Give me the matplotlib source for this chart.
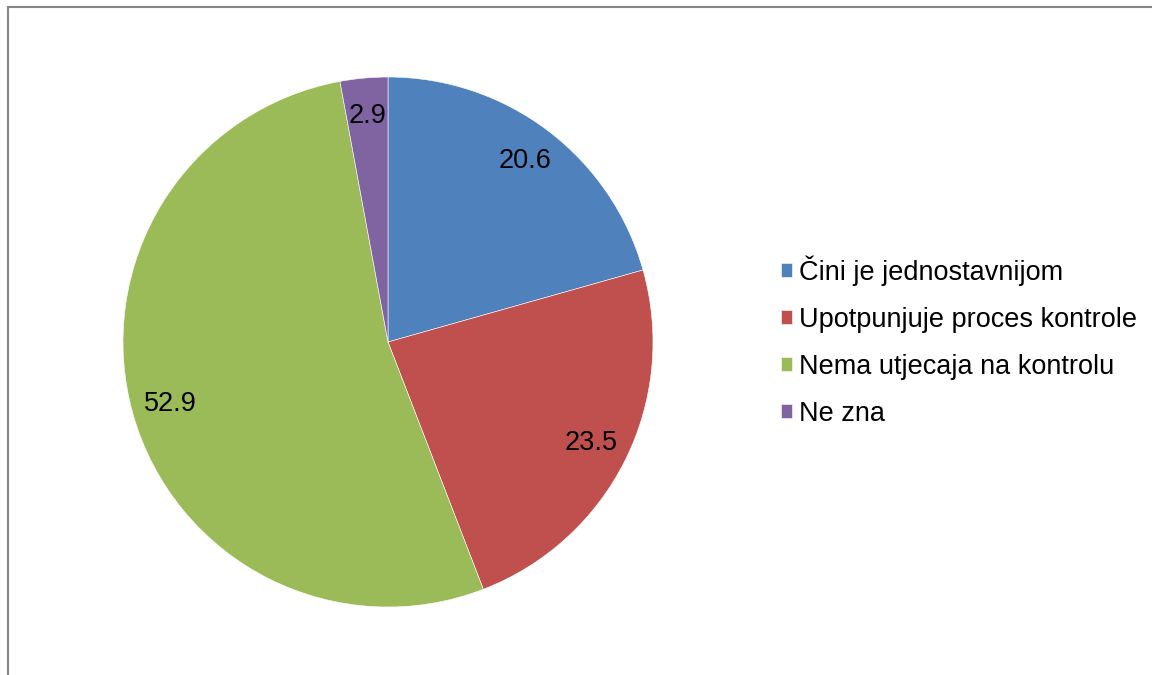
import matplotlib
matplotlib.use("Agg")
from matplotlib import pyplot as plt
from matplotlib.lines import Line2D

labels = ['Čini je jednostavnijom', 'Upotpunjuje proces kontrole',
          'Nema utjecaja na kontrolu', 'Ne zna']
values = [20.6, 23.5, 52.9, 2.9]
colors = ['#4F81BD', '#C0504D', '#9BBB59', '#8064A2']

plt.rcParams['font.family'] = ['Liberation Sans', 'DejaVu Sans']

W, H = 1152, 675
fig = plt.figure(figsize=(W / 100, H / 100), dpi=100)

cx, cy, r = 388, 342, 265
ax = fig.add_axes([(cx - r) / W, (H - cy - r) / H, 2 * r / W, 2 * r / H])

wedges, texts, autotexts = ax.pie(values, colors=colors, startangle=90, counterclock=False,
                                  radius=1, autopct='%.1f', pctdistance=0.855,
                                  wedgeprops=dict(edgecolor='white', linewidth=0.4),
                                  textprops=dict(fontsize=19.5, color='black'))
for t, v in zip(autotexts, values):
    t.set_text(f'{v:.1f}')
ax.set_xlim(-1, 1)
ax.set_ylim(-1, 1)
ax.set_aspect('equal')
ax.axis('off')

fig.legend(wedges, labels, loc='center left', bbox_to_anchor=(781 / W, 1 - 341 / H),
           frameon=False, fontsize=19.5, handlelength=0.42, handleheight=0.42,
           handletextpad=0.26, labelspacing=0.78, borderaxespad=0, borderpad=0)

# chart border (top and left edges)
fig.add_artist(Line2D([7.5 / W, 1], [1 - 6.5 / H, 1 - 6.5 / H], color='#868686', lw=1.5))
fig.add_artist(Line2D([7.5 / W, 7.5 / W], [0, 1 - 6.5 / H], color='#868686', lw=1.5))

fig.savefig('out.png', dpi=100)
